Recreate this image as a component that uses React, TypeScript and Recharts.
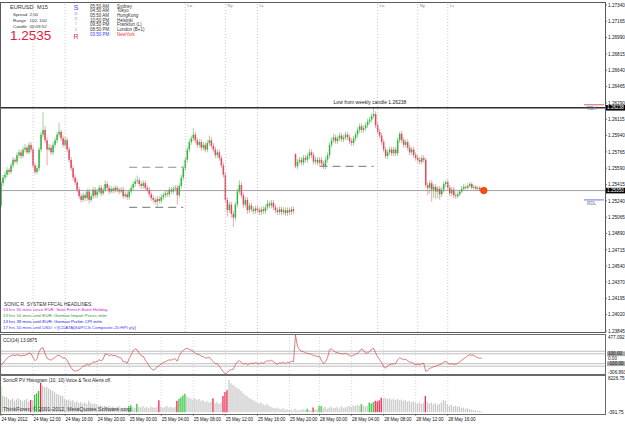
import { ComposedChart, Bar, Line, XAxis, YAxis, ReferenceLine, ReferenceDot, Cell } from "recharts";

const FONT = "'Liberation Sans', Arial, sans-serif";

// EURUSD M15, 24 May 08:00 .. 28 May ~20:00 (one entry per bar)
const opens = [
  1.2519, 1.2543, 1.2549, 1.2552, 1.2557, 1.2555, 1.2562, 1.2568, 1.2566, 1.2573, 1.2576, 1.2572, 1.2579, 1.2581, 1.2576, 1.2584,
  1.2579, 1.2562, 1.2555, 1.2559, 1.2579, 1.2595, 1.2600, 1.2589, 1.2579, 1.2581, 1.2576, 1.2584, 1.2589, 1.2595, 1.2598, 1.2591,
  1.2584, 1.2589, 1.2579, 1.2568, 1.2559, 1.2549, 1.2544, 1.2536, 1.2529, 1.2525, 1.2530, 1.2527, 1.2534, 1.2525, 1.2529, 1.2536,
  1.2530, 1.2534, 1.2538, 1.2532, 1.2536, 1.2542, 1.2538, 1.2534, 1.2537, 1.2535, 1.2538, 1.2536, 1.2534, 1.2536, 1.2529, 1.2531,
  1.2528, 1.2534, 1.2538, 1.2542, 1.2545, 1.2546, 1.2542, 1.2540, 1.2543, 1.2538, 1.2536, 1.2531, 1.2527, 1.2525, 1.2523, 1.2526,
  1.2524, 1.2528, 1.2530, 1.2532, 1.2531, 1.2536, 1.2534, 1.2537, 1.2538, 1.2530, 1.2540, 1.2549, 1.2559, 1.2568, 1.2579, 1.2587,
  1.2591, 1.2595, 1.2589, 1.2584, 1.2587, 1.2581, 1.2584, 1.2579, 1.2586, 1.2589, 1.2583, 1.2579, 1.2573, 1.2576, 1.2570, 1.2562,
  1.2552, 1.2525, 1.2514, 1.2520, 1.2510, 1.2506, 1.2520, 1.2534, 1.2541, 1.2530, 1.2520, 1.2525, 1.2514, 1.2519, 1.2515, 1.2513,
  1.2516, 1.2514, 1.2512, 1.2515, 1.2513, 1.2517, 1.2521, 1.2519, 1.2522, 1.2517, 1.2514, 1.2512, 1.2515, 1.2512, 1.2514, 1.2511,
  1.2514, 1.2512, 1.2515, 1.2574, 1.2561, 1.2566, 1.2568, 1.2565, 1.2570, 1.2568, 1.2572, 1.2576, 1.2573, 1.2566, 1.2568, 1.2565,
  1.2568, 1.2564, 1.2561, 1.2568, 1.2573, 1.2584, 1.2589, 1.2592, 1.2588, 1.2591, 1.2594, 1.2590, 1.2592, 1.2595, 1.2592, 1.2588,
  1.2586, 1.2591, 1.2595, 1.2600, 1.2604, 1.2600, 1.2602, 1.2605, 1.2609, 1.2611, 1.2615, 1.2617, 1.2605, 1.2598, 1.2594, 1.2587,
  1.2579, 1.2572, 1.2576, 1.2579, 1.2575, 1.2579, 1.2575, 1.2589, 1.2596, 1.2589, 1.2584, 1.2587, 1.2581, 1.2576, 1.2579, 1.2573,
  1.2570, 1.2568, 1.2566, 1.2570, 1.2568, 1.2541, 1.2538, 1.2543, 1.2536, 1.2539, 1.2534, 1.2537, 1.2531, 1.2536, 1.2542, 1.2544,
  1.2538, 1.2532, 1.2536, 1.2530, 1.2529, 1.2531, 1.2534, 1.2537, 1.2539, 1.2538, 1.2540, 1.2542, 1.2538, 1.2539, 1.2537, 1.2538,
  1.2536,
];
const highs = [
  1.2546, 1.2552, 1.2556, 1.2560, 1.2559, 1.2565, 1.2571, 1.2570, 1.2576, 1.2579, 1.2579, 1.2582, 1.2585, 1.2583, 1.2587, 1.2587,
  1.2582, 1.2565, 1.2562, 1.2582, 1.2598, 1.2619, 1.2604, 1.2592, 1.2585, 1.2584, 1.2587, 1.2592, 1.2598, 1.2608, 1.2600, 1.2594,
  1.2593, 1.2592, 1.2582, 1.2571, 1.2562, 1.2552, 1.2547, 1.2539, 1.2532, 1.2533, 1.2533, 1.2537, 1.2537, 1.2532, 1.2539, 1.2539,
  1.2537, 1.2541, 1.2541, 1.2539, 1.2546, 1.2545, 1.2541, 1.2540, 1.2539, 1.2541, 1.2540, 1.2538, 1.2539, 1.2539, 1.2534, 1.2534,
  1.2537, 1.2541, 1.2545, 1.2548, 1.2551, 1.2549, 1.2545, 1.2546, 1.2546, 1.2541, 1.2539, 1.2534, 1.2530, 1.2528, 1.2529, 1.2529,
  1.2531, 1.2533, 1.2535, 1.2535, 1.2539, 1.2539, 1.2540, 1.2541, 1.2541, 1.2543, 1.2552, 1.2562, 1.2571, 1.2582, 1.2590, 1.2594,
  1.2602, 1.2598, 1.2592, 1.2590, 1.2590, 1.2587, 1.2587, 1.2589, 1.2594, 1.2592, 1.2586, 1.2582, 1.2579, 1.2579, 1.2573, 1.2565,
  1.2555, 1.2528, 1.2523, 1.2523, 1.2513, 1.2523, 1.2537, 1.2546, 1.2544, 1.2533, 1.2528, 1.2528, 1.2522, 1.2522, 1.2518, 1.2519,
  1.2519, 1.2517, 1.2518, 1.2518, 1.2520, 1.2525, 1.2524, 1.2525, 1.2525, 1.2520, 1.2517, 1.2518, 1.2518, 1.2517, 1.2517, 1.2517,
  1.2517, 1.2518, 1.2518, 1.2575, 1.2569, 1.2571, 1.2571, 1.2573, 1.2573, 1.2575, 1.2580, 1.2579, 1.2576, 1.2571, 1.2571, 1.2571,
  1.2571, 1.2567, 1.2571, 1.2576, 1.2587, 1.2592, 1.2596, 1.2595, 1.2594, 1.2597, 1.2597, 1.2595, 1.2598, 1.2598, 1.2595, 1.2591,
  1.2594, 1.2598, 1.2603, 1.2607, 1.2607, 1.2605, 1.2608, 1.2612, 1.2614, 1.2618, 1.2625, 1.2620, 1.2608, 1.2601, 1.2597, 1.2590,
  1.2582, 1.2579, 1.2582, 1.2582, 1.2582, 1.2582, 1.2592, 1.2598, 1.2599, 1.2592, 1.2590, 1.2590, 1.2584, 1.2582, 1.2582, 1.2576,
  1.2573, 1.2571, 1.2573, 1.2573, 1.2570, 1.2544, 1.2546, 1.2546, 1.2542, 1.2542, 1.2540, 1.2540, 1.2539, 1.2545, 1.2546, 1.2547,
  1.2541, 1.2539, 1.2539, 1.2533, 1.2534, 1.2536, 1.2540, 1.2542, 1.2541, 1.2543, 1.2544, 1.2544, 1.2541, 1.2541, 1.2540, 1.2540,
  1.2538,
];
const lows = [
  1.2516, 1.2540, 1.2546, 1.2549, 1.2552, 1.2553, 1.2559, 1.2564, 1.2563, 1.2570, 1.2569, 1.2570, 1.2576, 1.2574, 1.2574, 1.2576,
  1.2559, 1.2552, 1.2553, 1.2556, 1.2576, 1.2592, 1.2586, 1.2562, 1.2577, 1.2573, 1.2573, 1.2581, 1.2586, 1.2592, 1.2588, 1.2581,
  1.2581, 1.2576, 1.2565, 1.2556, 1.2546, 1.2541, 1.2533, 1.2526, 1.2522, 1.2523, 1.2524, 1.2524, 1.2521, 1.2523, 1.2526, 1.2527,
  1.2527, 1.2531, 1.2529, 1.2530, 1.2533, 1.2535, 1.2531, 1.2532, 1.2532, 1.2533, 1.2533, 1.2531, 1.2532, 1.2526, 1.2527, 1.2525,
  1.2525, 1.2531, 1.2535, 1.2539, 1.2542, 1.2539, 1.2537, 1.2537, 1.2535, 1.2533, 1.2528, 1.2524, 1.2522, 1.2520, 1.2517, 1.2521,
  1.2521, 1.2525, 1.2527, 1.2528, 1.2528, 1.2531, 1.2531, 1.2534, 1.2520, 1.2527, 1.2537, 1.2546, 1.2556, 1.2565, 1.2576, 1.2584,
  1.2588, 1.2586, 1.2581, 1.2581, 1.2578, 1.2578, 1.2576, 1.2576, 1.2583, 1.2580, 1.2576, 1.2570, 1.2570, 1.2567, 1.2559, 1.2549,
  1.2522, 1.2507, 1.2511, 1.2506, 1.2496, 1.2503, 1.2517, 1.2531, 1.2527, 1.2516, 1.2517, 1.2510, 1.2511, 1.2512, 1.2510, 1.2510,
  1.2511, 1.2509, 1.2509, 1.2510, 1.2510, 1.2514, 1.2516, 1.2516, 1.2514, 1.2511, 1.2509, 1.2509, 1.2509, 1.2509, 1.2508, 1.2508,
  1.2509, 1.2509, 1.2510, 1.2559, 1.2558, 1.2563, 1.2562, 1.2562, 1.2565, 1.2565, 1.2569, 1.2570, 1.2563, 1.2563, 1.2562, 1.2562,
  1.2561, 1.2558, 1.2558, 1.2565, 1.2570, 1.2581, 1.2586, 1.2585, 1.2585, 1.2588, 1.2587, 1.2587, 1.2589, 1.2589, 1.2585, 1.2583,
  1.2583, 1.2588, 1.2592, 1.2597, 1.2597, 1.2597, 1.2599, 1.2602, 1.2606, 1.2608, 1.2612, 1.2602, 1.2595, 1.2591, 1.2584, 1.2576,
  1.2569, 1.2569, 1.2573, 1.2572, 1.2572, 1.2572, 1.2572, 1.2586, 1.2586, 1.2581, 1.2581, 1.2578, 1.2573, 1.2573, 1.2570, 1.2567,
  1.2565, 1.2563, 1.2563, 1.2565, 1.2538, 1.2530, 1.2532, 1.2523, 1.2527, 1.2526, 1.2527, 1.2525, 1.2528, 1.2533, 1.2539, 1.2535,
  1.2529, 1.2529, 1.2527, 1.2526, 1.2527, 1.2529, 1.2532, 1.2535, 1.2536, 1.2536, 1.2538, 1.2536, 1.2536, 1.2535, 1.2535, 1.2534,
  1.2533,
];
const closes = [
  1.2543, 1.2549, 1.2552, 1.2557, 1.2555, 1.2562, 1.2568, 1.2566, 1.2573, 1.2576, 1.2572, 1.2579, 1.2581, 1.2576, 1.2584, 1.2579,
  1.2562, 1.2555, 1.2559, 1.2579, 1.2595, 1.2600, 1.2589, 1.2579, 1.2581, 1.2576, 1.2584, 1.2589, 1.2595, 1.2598, 1.2591, 1.2584,
  1.2589, 1.2579, 1.2568, 1.2559, 1.2549, 1.2544, 1.2536, 1.2529, 1.2525, 1.2530, 1.2527, 1.2534, 1.2525, 1.2529, 1.2536, 1.2530,
  1.2534, 1.2538, 1.2532, 1.2536, 1.2542, 1.2538, 1.2534, 1.2537, 1.2535, 1.2538, 1.2536, 1.2534, 1.2536, 1.2529, 1.2531, 1.2528,
  1.2534, 1.2538, 1.2542, 1.2545, 1.2546, 1.2542, 1.2540, 1.2543, 1.2538, 1.2536, 1.2531, 1.2527, 1.2525, 1.2523, 1.2526, 1.2524,
  1.2528, 1.2530, 1.2532, 1.2531, 1.2536, 1.2534, 1.2537, 1.2538, 1.2530, 1.2540, 1.2549, 1.2559, 1.2568, 1.2579, 1.2587, 1.2591,
  1.2595, 1.2589, 1.2584, 1.2587, 1.2581, 1.2584, 1.2579, 1.2586, 1.2589, 1.2583, 1.2579, 1.2573, 1.2576, 1.2570, 1.2562, 1.2552,
  1.2525, 1.2514, 1.2520, 1.2510, 1.2506, 1.2520, 1.2534, 1.2541, 1.2530, 1.2520, 1.2525, 1.2514, 1.2519, 1.2515, 1.2513, 1.2516,
  1.2514, 1.2512, 1.2515, 1.2513, 1.2517, 1.2521, 1.2519, 1.2522, 1.2517, 1.2514, 1.2512, 1.2515, 1.2512, 1.2514, 1.2511, 1.2514,
  1.2512, 1.2515, 1.2513, 1.2561, 1.2566, 1.2568, 1.2565, 1.2570, 1.2568, 1.2572, 1.2576, 1.2573, 1.2566, 1.2568, 1.2565, 1.2568,
  1.2564, 1.2561, 1.2568, 1.2573, 1.2584, 1.2589, 1.2592, 1.2588, 1.2591, 1.2594, 1.2590, 1.2592, 1.2595, 1.2592, 1.2588, 1.2586,
  1.2591, 1.2595, 1.2600, 1.2604, 1.2600, 1.2602, 1.2605, 1.2609, 1.2611, 1.2615, 1.2617, 1.2605, 1.2598, 1.2594, 1.2587, 1.2579,
  1.2572, 1.2576, 1.2579, 1.2575, 1.2579, 1.2575, 1.2589, 1.2596, 1.2589, 1.2584, 1.2587, 1.2581, 1.2576, 1.2579, 1.2573, 1.2570,
  1.2568, 1.2566, 1.2570, 1.2568, 1.2541, 1.2538, 1.2543, 1.2536, 1.2539, 1.2534, 1.2537, 1.2531, 1.2536, 1.2542, 1.2544, 1.2538,
  1.2532, 1.2536, 1.2530, 1.2529, 1.2531, 1.2534, 1.2537, 1.2539, 1.2538, 1.2540, 1.2542, 1.2538, 1.2539, 1.2537, 1.2538, 1.2536,
  1.2535,
];

// CCI(14)
const cci = [
  -120, -90, -40, 10, 40, 60, 75, 65, 80, 70, 55, 70, 65, 90, 120, 100,
  20, -40, 0, 140, 210, 220, 100, 10, -10, -30, 0, 30, 60, 70, 40, 10,
  20, -30, -110, -180, -230, -250, -240, -220, -190, -150, -140, -110, -130, -100, -60, -70,
  -50, -20, -40, -10, 100, 90, 60, 80, 60, 70, 40, 30, 10, -60, -60, -90,
  0, 80, 170, 200, 180, 110, 60, 50, -30, -80, -150, -200, -230, -210, -160, -140,
  -100, -80, -60, -40, -20, -30, -10, 0, -50, 60, 130, 170, 200, 210, 190, 170,
  150, 110, 90, 80, 50, 40, 10, 20, 30, -20, -60, -100, -100, -150, -210, -260,
  -306.893, -280, -230, -220, -210, -120, -60, -40, -70, -110, -90, -120, -100, -90, -100, -80,
  -90, -100, -80, -90, -60, -40, -50, -30, -60, -90, -110, -80, -90, -70, -100, -70,
  -80, -50, -60, 477.092, 250, 180, 150, 140, 120, 110, 100, 90, 60, 60, 40, 50,
  -40, -100, -60, 20, 180, 200, 160, 130, 120, 110, 100, 100, 110, 90, 60, 50,
  70, 90, 110, 150, 200, 170, 110, 120, 140, 190, 210, 120, 40, -20, -80, -160,
  -190, -140, -120, -110, -100, -100, -20, 20, 0, -20, -10, -40, -70, -70, -100, -120,
  -110, -120, -100, -90, -250, -240, -190, -180, -160, -150, -130, -120, -100, -70, -50, -80,
  -110, -100, -110, -110, -90, -60, -30, 0, 30, 60, 80, 70, 70, 40, 20, 10,
  13.0875,
];

// SonicR PV histogram
const volume = [
  5900, 3700, 3600, 3400, 3000, 2800, 3200, 2600, 2900, 3100, 2700, 2500, 2800, 3000, 2400, 2800,
  2700, 4000, 4300, 4800, 6700, 6000, 5700, 5800, 5400, 5100, 4800, 4500, 4200, 4000, 3800, 3700,
  3000, 2800, 2900, 2600, 2700, 2300, 2500, 2100, 2400, 2000, 2200, 1900, 2600, 2100, 1800, 2000,
  1700, 1500, 1600, 1300, 1500, 1200, 1400, 1100, 1300, 1000, 1200, 1400, 1000, 900, 1100, 800,
  1400, 1600, 1200, 1000, 1900, 1300, 1100, 1400, 1000, 1200, 900, 1300, 1100, 1000, 1200, 2700,
  1300, 1000, 1200, 1400, 1100, 1300, 1000, 1200, 2600, 3000, 3400, 3800, 4200, 3600, 3300, 3100,
  2900, 3200, 2700, 3000, 2600, 2800, 2400, 2500, 2200, 2400, 3200, 2100, 2300, 1900, 2200, 3700,
  4600, 5000, 7300, 6600, 6200, 5900, 5500, 5200, 4800, 4400, 4000, 3700, 3300, 3000, 2800, 2500,
  2300, 2000, 2200, 1800, 1600, 1900, 1500, 1200, 1000, 900, 1100, 800, 700, 900, 600, 700,
  500, 600, 400, 800, 500, 400, 600, 700, 500, 800, 500, 400, 1100, 600, 700, 1500,
  1400, 900, 1200, 800, 1100, 1300, 900, 1000, 1200, 800, 1400, 1000, 1100, 1300, 1500, 1200,
  1600, 1400, 1700, 1500, 1800, 1600, 1300, 1500, 2200, 2000, 2300, 2600, 2500, 2700, 3300, 3100,
  3300, 3000, 3200, 2900, 3100, 2800, 3000, 2700, 2900, 2600, 2800, 2400, 2600, 2300, 2500, 2200,
  2000, 2300, 1900, 2100, 3700, 2400, 2000, 2200, 1800, 2100, 1700, 1900, 2200, 2800, 2600, 1800,
  1500, 1700, 1300, 1500, 1200, 1400, 1000, 1100, 800, 900, 700, 600, 500, 400, 300, 350,
  250,
];
const greenBars = [0, 17, 18, 19, 64, 65, 68, 89, 90, 91, 92, 153, 159, 160, 180, 184, 185, 186];
const redBars = [15, 20, 79, 88, 106, 111, 112, 113, 156, 187, 188, 189, 190, 212];

const priceTicks = [
  1.2734, 1.27165, 1.2699, 1.26815, 1.2664, 1.26465, 1.2629, 1.26115, 1.2594, 1.25765, 1.2559,
  1.25415, 1.2524, 1.25065, 1.2489, 1.24715, 1.2454, 1.2437, 1.24195, 1.2402, 1.23845,
];
const timeTicks = [0, 16, 32, 48, 64, 80, 96, 112, 128, 144, 159, 175, 191, 207, 223];
const timeLabels = [
  "24 May 2012", "24 May 12:00", "24 May 16:00", "24 May 20:00", "25 May 00:00", "25 May 04:00",
  "25 May 08:00", "25 May 12:00", "25 May 16:00", "25 May 20:00", "28 May 00:00", "28 May 04:00",
  "28 May 08:00", "28 May 12:00", "28 May 16:00",
];
const sessionBars = [16, 32, 92, 112, 128, 188, 208, 223];
const sessionNames = ["", "", "Lo", "Ny", "Lc", "Lo", "Ny", "Lc"];

const bid = 1.2535;
const weeklyLow = 1.26238;
const rdh = 1.2627;
const rdl = 1.2525;
const rangeLines = [
  { from: 64, to: 91, price: 1.256 },
  { from: 64, to: 91, price: 1.2517 },
  { from: 159, to: 186, price: 1.2561 },
];

const cityTimes = ["05:50 AM", "04:50 AM", "05:50 AM", "10:50 PM", "09:50 PM", "08:50 PM", "03:50 PM"];
const cityNames = ["Sydney", "Tokyo", "HongKong", "Helsinki", "Frankfurt (L)", "London (B+1)", "NewYork"];
const headlines = [
  { text: "13 hrs 50 mins since EUR: Start French Bank Holiday", color: "#cc22cc" },
  { text: "13 hrs 10 mins until EUR: German Import Prices m/m", color: "#1f9a1f" },
  { text: "13 hrs 39 mins until EUR: German Prelim CPI m/m", color: "#2222dd" },
  { text: "17 hrs 10 mins until USD: \u003C![CDATA[S&P/CS Composite-20 HPI y/y]", color: "#3a3aff" },
];

const SLOTS = 302;
const rows = Array.from({ length: SLOTS }, (_, i) => ({
  i,
  open: opens[i],
  high: highs[i],
  low: lows[i],
  close: closes[i],
  range: highs[i] === undefined ? null : [lows[i], highs[i]],
  cci: cci[i],
  vol: volume[i],
}));

const volColor = (i: number) =>
  greenBars.includes(i) ? "#25c22d" : redBars.includes(i) ? "#ee1540" : "#c6c6c6";

const Candle = (props: any) => {
  const { x, y, width, height, payload } = props;
  if (!payload || payload.high === undefined) return null;
  const top = Math.min(y, y + height);
  const h = Math.abs(height);
  const span = payload.high - payload.low || 1e-9;
  const py = (v: number) => top + ((payload.high - v) / span) * h;
  const up = payload.close >= payload.open;
  const cx = x + width / 2;
  const b1 = py(Math.max(payload.open, payload.close));
  const b2 = py(Math.min(payload.open, payload.close));
  return (
    <g>
      <line x1={cx} x2={cx} y1={top} y2={top + h} stroke={up ? "#9ad69a" : "#eba6b0"} strokeWidth={1} />
      <rect x={cx - 0.75} y={b1} width={1.5} height={Math.max(b2 - b1, 0.8)} fill={up ? "#38b540" : "#e04a62"} />
    </g>
  );
};

const PriceTick = ({ x, y, payload }: any) => (
  <g>
    <line x1={x - 3} x2={x - 1} y1={y} y2={y} stroke="#222" strokeWidth={0.6} />
    <text x={x} y={y + 1.7} fontSize={4.7} fontFamily={FONT} fill="#111">
      {payload.value.toFixed(5)}
    </text>
  </g>
);

const CciTick = ({ x, y, payload }: any) => {
  const v = payload.value;
  const level = v === 100 || v === -100;
  const dy = v > 400 ? 4.2 : v < -300 ? -0.4 : 1.7;
  const label = v === 0 ? "0.00" : level ? v.toFixed(2) : v.toFixed(3);
  return (
    <g>
      {level && <rect x={x - 1} y={y - 2.4} width={19} height={4.8} fill="#a9a9a9" />}
      <text x={x} y={y + dy} fontSize={4.6} fontFamily={FONT} fill="#111">{label}</text>
    </g>
  );
};

const HistTick = ({ x, y, payload }: any) => (
  <text x={x} y={y + (payload.value > 0 ? 4.2 : -0.4)} fontSize={4.6} fontFamily={FONT} fill="#111">
    {payload.value.toFixed(2)}
  </text>
);

const TimeTick = ({ x, y, payload }: any) => {
  const k = timeTicks.indexOf(payload.value);
  return (
    <g>
      <line x1={x} x2={x} y1={y} y2={y + 2} stroke="#222" strokeWidth={0.5} />
      <text x={x + 0.5} y={y + 6.6} fontSize={4.5} fontFamily={FONT} fill="#111">{timeLabels[k]}</text>
    </g>
  );
};

const AxisTag = ({ viewBox, text }: any) => (
  <g>
    <rect x={viewBox.x + viewBox.width + 1} y={viewBox.y - 2.8} width={19} height={5.6} fill="#000" />
    <text x={viewBox.x + viewBox.width + 2} y={viewBox.y + 1.7} fontSize={4.7} fontFamily={FONT} fill="#fff">{text}</text>
  </g>
);

const WeeklyTag = ({ viewBox }: any) => (
  <g>
    <text x={viewBox.x + 370} y={viewBox.y - 4} textAnchor="middle" fontSize={5} fontFamily={FONT} fill="#222">
      Low from weekly candle {weeklyLow.toFixed(5)}
    </text>
    <AxisTag viewBox={viewBox} text={weeklyLow.toFixed(5)} />
  </g>
);

const SideTag = ({ viewBox, text }: any) => (
  <text x={viewBox.x + 3} y={viewBox.y + 5.5} fontSize={4.6} fontFamily={FONT} fill="#6b6fa8">{text}</text>
);

const SessionTag = ({ viewBox, text }: any) => (
  <text x={viewBox.x + 2} y={viewBox.y + 3.5} fontSize={4.4} fontFamily={FONT} fill="#7480b0">{text}</text>
);

const sonic = [
  { ch: "S", y: 9.5, size: 7, color: "#3b3bff" },
  { ch: "o", y: 14.5, size: 5, color: "#8f8fff" },
  { ch: "n", y: 19.8, size: 5, color: "#8f8fff" },
  { ch: "i", y: 25.3, size: 5, color: "#b58ad8" },
  { ch: "c", y: 31, size: 5, color: "#f08aa0" },
  { ch: "R", y: 39, size: 7, color: "#ee2a48" },
];

export default function App() {
  return (
    <div style={{ position: "absolute", left: 0, top: 0, width: 625, height: 424, background: "#fff" }}>
      <div style={{ position: "absolute", left: 0, top: 0 }}>
        <ComposedChart width={625} height={333} data={rows} margin={{ top: 3, right: 0, bottom: 1, left: 0 }} barCategoryGap={0} barGap={0}>
          <XAxis dataKey="i" hide />
          <YAxis orientation="right" width={20} domain={[1.23834, 1.27361]} allowDataOverflow ticks={priceTicks} interval={0} tick={<PriceTick />} tickSize={2} tickMargin={1} tickLine={false} axisLine={false} />
          {sessionBars.map((b, k) => (
            <ReferenceLine key={"s" + k} x={b} stroke="#b9b9b9" strokeDasharray="1 2" strokeWidth={0.8} label={<SessionTag text={sessionNames[k]} />} />
          ))}
          <ReferenceLine y={weeklyLow} stroke="#2e2e2e" strokeWidth={1.3} label={<WeeklyTag />} />
          <ReferenceLine y={bid} stroke="#8a8a8a" strokeWidth={0.8} label={<AxisTag text="1.25350" />} />
          {rangeLines.map((r, k) => (
            <ReferenceLine key={"r" + k} segment={[{ x: r.from, y: r.price }, { x: r.to, y: r.price }]} stroke="#8e8e8e" strokeWidth={1.1} strokeDasharray="8 5" />
          ))}
          <ReferenceLine segment={[{ x: 291, y: rdh }, { x: 301, y: rdh }]} stroke="#e0605a" strokeWidth={1} label={<SideTag text="RDH" />} />
          <ReferenceLine segment={[{ x: 291, y: rdl }, { x: 301, y: rdl }]} stroke="#6f78d8" strokeWidth={1} label={<SideTag text="RDL" />} />
          <Bar dataKey="range" barSize={2} shape={Candle} isAnimationActive={false} />
          <ReferenceDot x={241} y={bid} r={3.3} fill="#ff4a10" stroke="#c83200" strokeWidth={0.6} />
        </ComposedChart>
      </div>

      <div style={{ position: "absolute", left: 0, top: 335 }}>
        <ComposedChart width={625} height={39} data={rows} margin={{ top: 0, right: 0, bottom: 0, left: 0 }}>
          <XAxis dataKey="i" hide scale="band" />
          <YAxis orientation="right" width={20} domain={[-306.893, 477.092]} allowDataOverflow ticks={[477.092, 100, 0, -100, -306.893]} interval={0} tick={<CciTick />} tickSize={2} tickMargin={1} tickLine={false} axisLine={false} />
          {timeTicks.map((t) => (
            <ReferenceLine key={"g" + t} x={t} stroke="#c9c9c9" strokeDasharray="1 2" strokeWidth={0.7} />
          ))}
          <ReferenceLine y={150} stroke="#a4a4a4" strokeWidth={0.7} />
          <ReferenceLine y={100} stroke="#a4a4a4" strokeWidth={0.7} />
          <ReferenceLine y={-100} stroke="#a4a4a4" strokeWidth={0.7} />
          <ReferenceLine y={-150} stroke="#a4a4a4" strokeWidth={0.7} />
          <Line dataKey="cci" stroke="#cf4848" strokeWidth={0.7} dot={false} isAnimationActive={false} />
        </ComposedChart>
      </div>

      <div style={{ position: "absolute", left: 0, top: 376 }}>
        <ComposedChart width={625} height={48} data={rows} margin={{ top: 0, right: 0, bottom: 0, left: 0 }} barCategoryGap={0}>
          <XAxis dataKey="i" ticks={timeTicks} interval={0} tick={<TimeTick />} tickLine={false} axisLine={false} height={10} tickSize={0} tickMargin={0} />
          <YAxis orientation="right" width={20} domain={[-391.75, 8226.75]} allowDataOverflow ticks={[8226.75, -391.75]} interval={0} tick={<HistTick />} tickSize={2} tickMargin={1} tickLine={false} axisLine={false} />
          {timeTicks.map((t) => (
            <ReferenceLine key={"h" + t} x={t} stroke="#c9c9c9" strokeDasharray="1 2" strokeWidth={0.7} />
          ))}
          <Bar dataKey="vol" barSize={1.2} isAnimationActive={false}>
            {rows.map((r) => (
              <Cell key={r.i} fill={volColor(r.i)} />
            ))}
          </Bar>
        </ComposedChart>
      </div>

      <svg width={625} height={424} style={{ position: "absolute", left: 0, top: 0, pointerEvents: "none" }} fontFamily={FONT}>
        <rect x={0.5} y={2.5} width={605} height={330} fill="none" stroke="#5a5a5a" strokeWidth={1} />
        <rect x={0.5} y={334.5} width={605} height={40} fill="none" stroke="#6a6a6a" strokeWidth={1} />
        <rect x={0.5} y={375.5} width={605} height={39} fill="none" stroke="#6a6a6a" strokeWidth={1} />

        <text x={10} y={9} fontSize={5.6} fill="#333">EURUSD</text>
        <text x={37} y={9} fontSize={5.6} fill="#333">M15</text>
        <text x={13} y={15.5} fontSize={4.4} fill="#333">Spread</text>
        <text x={29.5} y={15.5} fontSize={4.4} fill="#333">2.00</text>
        <text x={13} y={21.5} fontSize={4.4} fill="#333">Range</text>
        <text x={29.5} y={21.5} fontSize={4.4} fill="#333">102, 100</text>
        <text x={13} y={27.5} fontSize={4.4} fill="#333">Candle</text>
        <text x={29.5} y={27.5} fontSize={4.4} fill="#333">00:09:52</text>
        <text x={10} y={40} fontSize={13.5} fill="#e8173f">1.2535</text>

        {sonic.map((s) => (
          <text key={s.ch + s.y} x={76} y={s.y} fontSize={s.size} fill={s.color} textAnchor="middle">{s.ch}</text>
        ))}

        {cityTimes.map((t, k) => (
          <g key={"c" + k}>
            <text x={90} y={7.5 + k * 4.7} fontSize={4.5} fill={k === 6 ? "#3636ff" : "#333"}>{t}</text>
            <text x={117} y={7.5 + k * 4.7} fontSize={4.5} fill={k === 6 ? "#ff3030" : "#333"}>{cityNames[k]}</text>
          </g>
        ))}

        <text x={4} y={305.8} fontSize={4.8} fill="#2c2c4a">SONIC R. SYSTEM  FFCAL HEADLINES:</text>
        {headlines.map((h, k) => (
          <text key={"h" + k} x={3} y={311 + k * 5.9} fontSize={4.4} fill={h.color}>{h.text}</text>
        ))}

        <text x={3} y={342} fontSize={4.6} fill="#222">CCI(14) 13.0875</text>
        <text x={3} y={382} fontSize={4.6} fill="#222">SonicR PV Histogram (10, 10)   Voice &amp; Text Alerts off.</text>
        <text x={3} y={411} fontSize={5.4} fill="#333">ThinkForex, © 2001-2012, MetaQuotes Software corp.</text>
      </svg>
    </div>
  );
}
